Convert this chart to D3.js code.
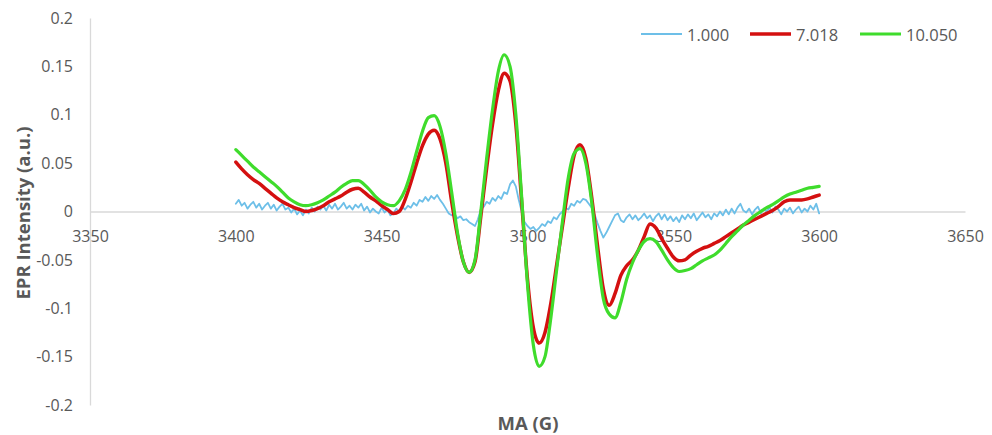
<!DOCTYPE html>
<html>
<head>
<meta charset="utf-8">
<script src="https://cdn.jsdelivr.net/npm/d3@7"></script>
<style>
  html, body { margin: 0; padding: 0; background: #ffffff; }
  svg { display: block; }
  text { font-family: "Open Sans", sans-serif; fill: #595959; }
</style>
</head>
<body>
<svg id="chart" width="992" height="435"></svg>
<script>
// ---- data ----
const seriesNames = ["1.000", "7.018", "10.050"];
const xTicks = [3350, 3400, 3450, 3500, 3550, 3600, 3650];
const yTicks = [0.2, 0.15, 0.1, 0.05, 0, -0.05, -0.1, -0.15, -0.2];
const yTickLabels = ["0.2", "0.15", "0.1", "0.05", "0", "-0.05", "-0.1", "-0.15", "-0.2"];

// noisy trace, field 3400..3600 G in 1 G steps
const blueStart = 3400, blueStep = 1;
const blueValues = [
  .008, .012, .006, .009, .003, .007, .010, .004, .008, .002,
  .006, .009, .003, .007, .001, .005, .008, .002, .004, -.001,
  .003, -.003, .001, -.004, .002, -.002, .004, .000, .005, .002,
  .006, .001, .007, .003, .008, .002, .005, .009, .003, .006,
  .002, .007, .004, .008, .001, .005, -.001, .003, .000, -.002,
  .004, -.001, .002, -.004, -.002, .003, .000, .005, .002, .006,
  .004, .009, .006, .012, .010, .015, .011, .016, .013, .017,
  .012, .008, .003, -.002, -.004, -.003, -.007, -.005, -.009, -.008,
  -.011, -.013, -.015, -.008, .002, .005, .010, .008, .014, .011,
  .016, .013, .020, .018, .028, .032, .026, .012, .000, -.011,
  -.015, -.018, -.016, -.020, -.017, -.013, -.015, -.010, -.012, -.006,
  -.008, -.003, .000, .004, .002, .008, .006, .011, .009, .013,
  .012, .008, .004, -.003, -.012, -.020, -.027, -.022, -.016, -.010,
  -.004, -.002, -.009, -.011, -.006, -.003, -.008, -.004, -.009, -.006,
  -.002, -.007, -.004, -.010, -.005, -.002, -.008, -.003, -.009, -.005,
  -.010, -.006, -.011, -.004, -.008, -.003, -.007, -.002, -.009, -.005,
  -.001, -.006, -.003, -.008, -.002, -.005, .000, -.004, .002, -.003,
  .003, -.002, .004, .008, .001, -.001, .003, -.003, .002, .005,
  -.002, .003, .000, .004, -.001, .005, .002, -.003, .003, .000,
  .004, -.002, .002, .005, -.001, .003, .000, .006, .002, .008,
  -.002
];

// smooth traces, field 3400..3600 G in 2 G steps
const smoothStart = 3400, smoothStep = 2;
const redValues = [
  .051, .044, .038, .033, .029, .024, .019, .014, .010, .007,
  .004, .002, .000, .001, .003, .006, .010, .013, .016, .020,
  .023, .024, .020, .015, .011, .006, .002, -.002, .000, .012,
  .030, .050, .068, .080, .084, .075, .050, .010, -.025, -.052,
  -.063, -.052, -.005, .045, .090, .125, .143, .135, .090, .010,
  -.070, -.120, -.136, -.125, -.095, -.055, -.015, .025, .058, .069,
  .055, .015, -.035, -.080, -.097, -.085, -.066, -.056, -.050, -.040,
  -.026, -.013, -.017, -.028, -.038, -.047, -.051, -.050, -.045, -.041,
  -.038, -.036, -.033, -.030, -.026, -.022, -.018, -.014, -.011, -.008,
  -.005, -.002, .001, .005, .010, .012, .012, .012, .013, .015,
  .017
];
const greenValues = [
  .064, .058, .052, .046, .041, .036, .031, .026, .020, .014,
  .010, .007, .006, .007, .009, .012, .016, .020, .025, .029,
  .032, .032, .028, .022, .015, .010, .007, .006, .011, .022,
  .040, .062, .083, .097, .099, .088, .060, .020, -.022, -.052,
  -.063, -.050, .000, .055, .105, .145, .162, .150, .100, .015,
  -.075, -.138, -.160, -.150, -.110, -.060, -.010, .035, .060, .065,
  .050, .010, -.045, -.090, -.106, -.110, -.094, -.070, -.053, -.040,
  -.031, -.028, -.031, -.040, -.050, -.058, -.062, -.061, -.059, -.055,
  -.051, -.048, -.045, -.040, -.033, -.026, -.020, -.014, -.009, -.004,
  .000, .004, .007, .011, .015, .018, .020, .022, .024, .025,
  .026
];

const colors = ["#6dbfe8", "#d41010", "#3fdc2c"];
const widths = [1.8, 3.5, 3.2];

// ---- chart ----
const svg = d3.select("#chart");
const x = d3.scaleLinear().domain([3350, 3650]).range([90, 965]);
const y = d3.scaleLinear().domain([-0.2, 0.2]).range([405, 18]);

// y axis (line only + labels)
const yAxis = d3.axisLeft(y).tickValues(yTicks).tickSize(0).tickPadding(17)
  .tickFormat((d, i) => yTickLabels[i]);
const gy = svg.append("g").attr("transform", "translate(90,0)").call(yAxis);
gy.select(".domain").attr("stroke", "#d9d9d9").attr("stroke-width", 1.3);
gy.selectAll("text").style("font-size", "16px").attr("fill", "#595959")
  .style("font-family", "'Open Sans', sans-serif");

// x axis at zero
const xAxis = d3.axisBottom(x).tickValues(xTicks).tickSize(0).tickPadding(19)
  .tickFormat(d3.format("d"));
const gx = svg.append("g").attr("transform", `translate(0,${y(0)})`).call(xAxis);
gx.select(".domain").attr("stroke", "#d9d9d9").attr("stroke-width", 1.3);
gx.selectAll("text").style("font-size", "16px").attr("fill", "#595959")
  .style("font-family", "'Open Sans', sans-serif");

// series
const blueData = blueValues.map((v, i) => [blueStart + i * blueStep, v]);
const redData = redValues.map((v, i) => [smoothStart + i * smoothStep, v]);
const greenData = greenValues.map((v, i) => [smoothStart + i * smoothStep, v]);
const allData = [blueData, redData, greenData];

const lineLinear = d3.line().x(d => x(d[0])).y(d => y(d[1])).curve(d3.curveLinear);
const lineSmooth = d3.line().x(d => x(d[0])).y(d => y(d[1])).curve(d3.curveMonotoneX);

allData.forEach((data, i) => {
  svg.append("path")
    .datum(data)
    .attr("fill", "none")
    .attr("stroke", colors[i])
    .attr("stroke-width", widths[i])
    .attr("stroke-linejoin", "round")
    .attr("stroke-linecap", "round")
    .attr("d", i === 0 ? lineLinear : lineSmooth);
});

// axis titles
svg.append("text")
  .attr("transform", "translate(22,213) rotate(-90)")
  .attr("text-anchor", "middle")
  .attr("dominant-baseline", "central")
  .style("font-size", "18.5px").style("font-weight", "bold")
  .text("EPR Intensity (a.u.)");
svg.append("text")
  .attr("x", 528).attr("y", 422)
  .attr("text-anchor", "middle")
  .attr("dominant-baseline", "central")
  .style("font-size", "18.5px").style("font-weight", "bold")
  .text("MA (G)");

// legend
const legendX = [641, 750, 860];
seriesNames.forEach((name, i) => {
  const g = svg.append("g").attr("transform", `translate(${legendX[i]},34)`);
  g.append("line").attr("x1", 0).attr("x2", 41).attr("y1", 0).attr("y2", 0)
    .attr("stroke", colors[i]).attr("stroke-width", widths[i]);
  g.append("text").attr("x", 46).attr("y", 0)
    .attr("dominant-baseline", "central")
    .style("font-size", "16.5px")
    .text(name);
});
</script>
</body>
</html>
